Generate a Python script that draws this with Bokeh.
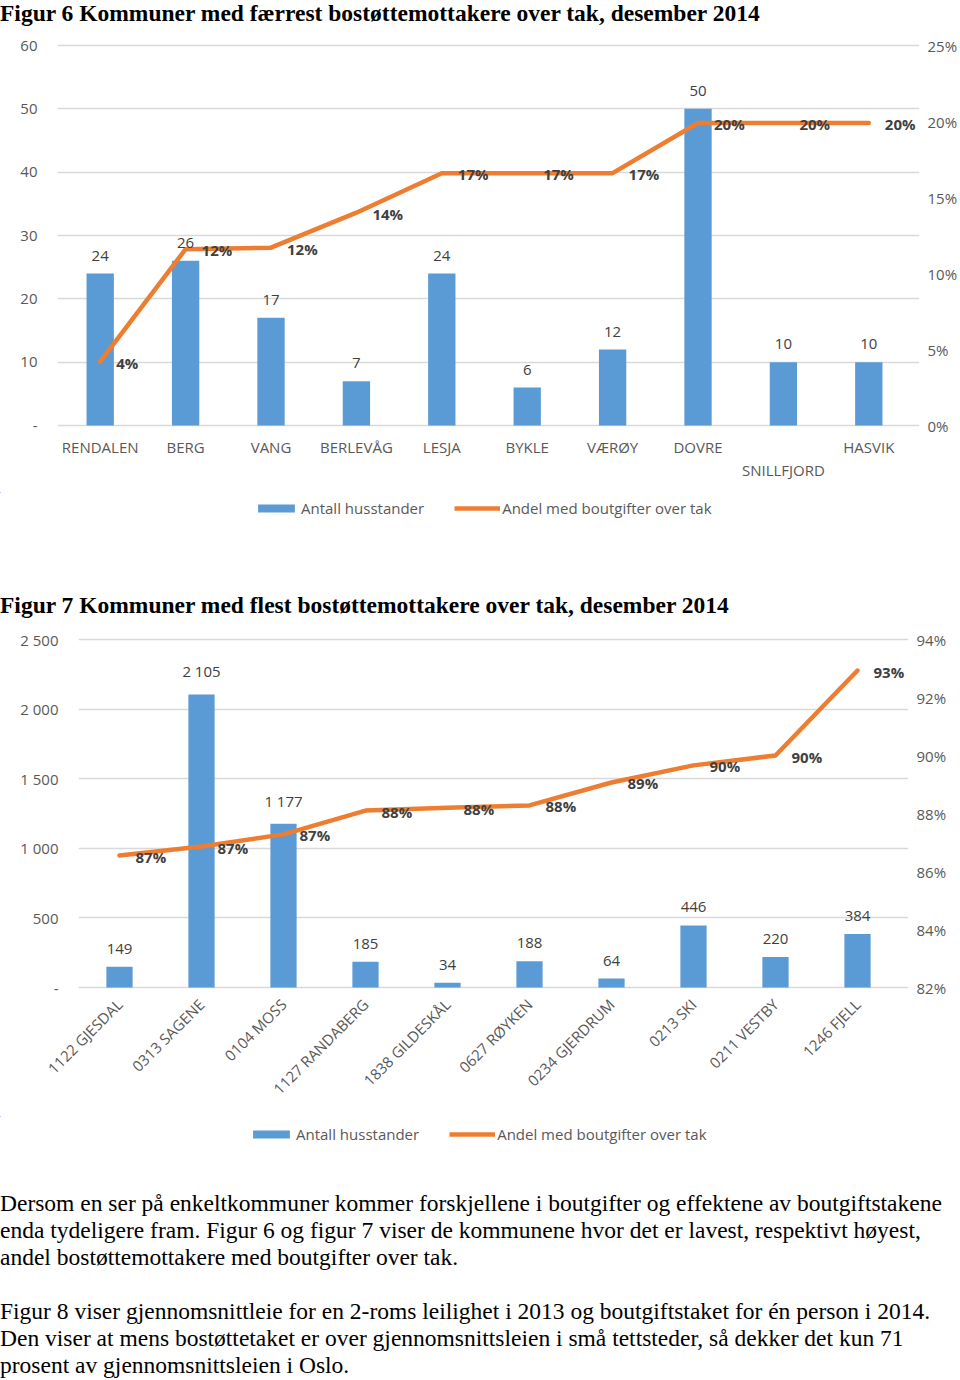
from bokeh.plotting import figure
from bokeh.models import (Range1d, LinearAxis, FixedTicker, Legend, LegendItem,
                          Div, ColumnDataSource, NumeralTickFormatter)
from bokeh.layouts import column
from bokeh.embed import file_html
from bokeh.resources import INLINE
from bokeh.core.properties import value
import math

# ---------------- data ----------------
title6 = "Figur 6 Kommuner med færrest bostøttemottakere over tak, desember 2014"
kommuner6 = ["RENDALEN", "BERG", "VANG", "BERLEVÅG", "LESJA", "BYKLE", "VÆRØY", "DOVRE", "SNILLFJORD", "HASVIK"]
husstander6 = [24, 26, 17, 7, 24, 6, 12, 50, 10, 10]
andel6 = [0.042, 0.116, 0.117, 0.140, 0.166, 0.166, 0.166, 0.199, 0.199, 0.199]
left_ticks6 = [0, 10, 20, 30, 40, 50, 60]
left_labels6 = ["-", "10", "20", "30", "40", "50", "60"]
right_ticks6 = [0.0, 0.05, 0.10, 0.15, 0.20, 0.25]
staggered6 = ["SNILLFJORD"]   # category label shown on a second row

title7 = "Figur 7 Kommuner med flest bostøttemottakere over tak, desember 2014"
kommuner7 = ["1122 GJESDAL", "0313 SAGENE", "0104 MOSS", "1127 RANDABERG", "1838 GILDESKÅL",
             "0627 RØYKEN", "0234 GJERDRUM", "0213 SKI", "0211 VESTBY", "1246 FJELL"]
husstander7 = [149, 2105, 1177, 185, 34, 188, 64, 446, 220, 384]
andel7 = [0.8655, 0.8686, 0.8728, 0.8810, 0.8820, 0.8828, 0.8907, 0.8966, 0.9000, 0.9293]
left_ticks7 = [0, 500, 1000, 1500, 2000, 2500]
left_labels7 = ["-", "500", "1 000", "1 500", "2 000", "2 500"]
right_ticks7 = [0.82, 0.84, 0.86, 0.88, 0.90, 0.92, 0.94]

series_bar = "Antall husstander"
series_line = "Andel med boutgifter over tak"

paragraph_lines = [
    "Dersom en ser på enkeltkommuner kommer forskjellene i boutgifter og effektene av boutgiftstakene",
    "enda tydeligere fram. Figur 6 og figur 7 viser de kommunene hvor det er lavest, respektivt høyest,",
    "andel bostøttemottakere med boutgifter over tak.",
    "",
    "Figur 8 viser gjennomsnittleie for en 2-roms leilighet i 2013 og boutgiftstaket for én person i 2014.",
    "Den viser at mens bostøttetaket er over gjennomsnittsleien i små tettsteder, så dekker det kun 71",
    "prosent av gjennomsnittsleien i Oslo.",
]

# ---------------- style ----------------
FONT = "Open Sans"
BLUE = "#5B9BD5"
ORANGE = "#ED7D31"
GRAY = "#595959"
DARK = "#404040"
GRID = "#D9D9D9"
PAD = 2  # px of extra room so the edge gridlines stay visible


def fmt_n(v):
    return f"{v:,}".replace(",", " ")


def style_axis(ax):
    ax.axis_label = None
    ax.axis_line_color = None
    ax.major_tick_line_color = None
    ax.minor_tick_line_color = None
    ax.major_tick_out = 0
    ax.major_tick_in = 0
    ax.minor_tick_out = 0
    ax.minor_tick_in = 0
    ax.major_label_text_font = FONT
    ax.major_label_text_font_size = "15px"
    ax.major_label_text_color = GRAY


def build(cats, counts, pct, y_max, y_ticks, y_labels, pct_min, pct_max, pct_ticks,
          height, frame_top, frame_h, b_left, b_right, ext=8, staggered=(), rotate=False,
          std_left=20, std_right=16, std_x=14, std_x2=0):
    f = PAD / frame_h
    b_top = frame_top - PAD
    b_bottom = height - b_top - (frame_h + 2 * PAD)
    n = len(cats)
    pos = list(range(n))
    cat_px = (960 - b_left - b_right) / n
    p = figure(x_range=Range1d(-0.5, n - 0.5 + ext / cat_px),
               y_range=Range1d(-y_max * f, y_max * (1 + f)),
               width=960, height=height, output_backend="svg", toolbar_location=None,
               min_border_top=b_top, min_border_bottom=b_bottom,
               min_border_left=b_left, min_border_right=b_right - ext)
    span = pct_max - pct_min
    p.extra_y_ranges = {"pct": Range1d(pct_min - span * f, pct_max + span * f)}
    src = ColumnDataSource(dict(x=pos, n=counts, n_lab=[fmt_n(v) for v in counts],
                                pct=pct, pct_lab=[f"{round(v * 100)}%" for v in pct]))
    p.vbar(x="x", top="n", width=0.32, source=src, fill_color=BLUE, line_color=None)
    p.line(x="x", y="pct", y_range_name="pct", source=src, line_color=ORANGE,
           line_width=4.5, line_join="round", line_cap="round")
    p.text(x="x", y="n", text="n_lab", source=src, text_align="center", text_baseline="bottom",
           y_offset=-13, text_font=value(FONT), text_font_size="15px", text_color=DARK)
    p.text(x="x", y="pct", text="pct_lab", y_range_name="pct", source=src, x_offset=16,
           y_offset=1, text_align="left", text_baseline="middle", text_font=value(FONT),
           text_font_size="15px", text_font_style="bold", text_color=DARK)

    right = LinearAxis(y_range_name="pct", ticker=FixedTicker(ticks=pct_ticks, minor_ticks=[]),
                       formatter=NumeralTickFormatter(format="0%"))
    p.add_layout(right, "right")

    left = p.left[0]
    left.ticker = FixedTicker(ticks=y_ticks, minor_ticks=[])
    left.major_label_overrides = dict(zip(y_ticks, y_labels))
    p.ygrid[0].ticker = FixedTicker(ticks=y_ticks, minor_ticks=[])
    p.ygrid.grid_line_color = GRID
    p.ygrid.grid_line_width = 1.3
    p.xgrid.grid_line_color = None
    p.outline_line_color = None

    bottom = p.below[0]
    bottom.ticker = FixedTicker(ticks=pos, minor_ticks=[])
    bottom.major_label_overrides = {i: (" " if c in staggered else c) for i, c in zip(pos, cats)}
    extra_axes = []
    if staggered:
        st = [i for i, c in zip(pos, cats) if c in staggered]
        ax2 = LinearAxis(ticker=FixedTicker(ticks=st, minor_ticks=[]),
                         major_label_overrides={i: cats[i] for i in st})
        p.add_layout(ax2, "below")
        extra_axes.append(ax2)

    for ax in p.axis:
        style_axis(ax)
    left.major_label_standoff = std_left
    right.major_label_standoff = std_right - ext
    bottom.major_label_standoff = std_x
    for ax in extra_axes:
        ax.major_label_standoff = std_x2
    if rotate:
        bottom.major_label_orientation = math.pi / 4
    return p, src


def legend_fig(src, height, loc):
    # the same series, scrolled far out of view, so that only their legend shows
    lg = figure(width=960, height=height, x_range=Range1d(100, 101), y_range=Range1d(-1e6, -1e6 + 1),
                x_axis_type=None, y_axis_type=None, output_backend="svg", toolbar_location=None,
                min_border=0, outline_line_color=None)
    rb = lg.vbar(x="x", top="n", width=0.32, source=src, fill_color=BLUE, line_color=None)
    rl = lg.line(x="x", y="pct", source=src, line_color=ORANGE, line_width=4.5)
    legend = Legend(items=[LegendItem(label=series_bar, renderers=[rb]),
                           LegendItem(label=series_line, renderers=[rl])],
                    orientation="horizontal", location=loc,
                    border_line_color=None, background_fill_alpha=0,
                    label_text_font=FONT, label_text_font_size="15px", label_text_color=GRAY,
                    glyph_width=46, glyph_height=10, label_standoff=2, spacing=30,
                    margin=0, padding=6)
    lg.add_layout(legend, "center")
    return lg


p6, src6 = build(kommuner6, husstander6, andel6, 60, left_ticks6, left_labels6,
                 0, 0.25, right_ticks6, height=466, frame_top=45 - 26, frame_h=380,
                 b_left=57, b_right=48, ext=8, staggered=staggered6, std_x=9, std_x2=0)
lg6 = legend_fig(src6, 100, (253, 74))

p7, src7 = build(kommuner7, husstander7, andel7, 2500, left_ticks7, left_labels7,
                 0.82, 0.94, right_ticks7, height=498, frame_top=639 - 618, frame_h=348,
                 b_left=78, b_right=62, ext=10, rotate=True, std_right=18, std_x=12)
lg7 = legend_fig(src7, 74, (248, 46))

title_style = {"font-family": "Liberation Serif", "font-weight": "bold", "font-size": "23.5px",
               "color": "#000000", "line-height": "26px", "white-space": "nowrap"}
t6 = Div(text=title6, width=960, height=26, margin=(0, 0, 0, 0), styles=title_style)
t7 = Div(text=title7, width=960, height=26, margin=(0, 0, 0, 0), styles=title_style)
para_html = "<br>".join(l if l else "&nbsp;" for l in paragraph_lines)
para = Div(text=para_html, width=960, height=190, margin=(0, 0, 0, 0),
           styles={"font-family": "Liberation Serif", "font-size": "23.5px", "color": "#000000",
                   "line-height": "27px", "white-space": "nowrap"})

# each plot sits in its own column so that plot frames are not aligned to each other
layout = column(t6, column(p6), column(lg6), t7, column(p7), column(lg7), para, spacing=0)
open("out.html", "w").write(file_html(layout, INLINE))
